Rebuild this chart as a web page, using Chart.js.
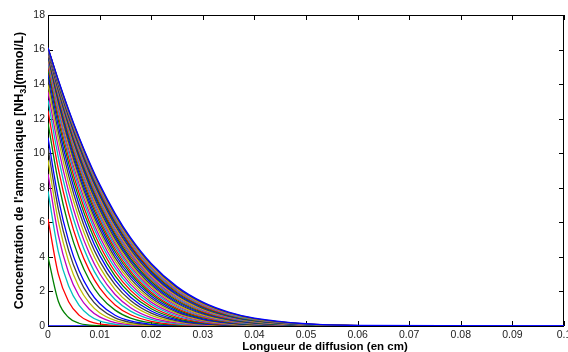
<!DOCTYPE html>
<html>
<head>
<meta charset="utf-8">
<script src="https://cdn.jsdelivr.net/npm/chart.js@4/dist/chart.umd.min.js"></script>
<style>
  html, body { margin: 0; padding: 0; background: #fff; }
  #wrap { width: 568px; height: 352px; }
</style>
</head>
<body>
<div id="wrap"><canvas id="chartProfiles" width="568" height="352"></canvas></div>
<script>
// diffusion length grid (cm) shared by every profile
const xGrid = [0, 0.002, 0.004, 0.006, 0.008, 0.010, 0.013, 0.016, 0.020, 0.025, 0.030, 0.035, 0.040, 0.050, 0.060, 0.100];
const xTicks = [0, 0.01, 0.02, 0.03, 0.04, 0.05, 0.06, 0.07, 0.08, 0.09, 0.1];
const yTicks = [0, 2, 4, 6, 8, 10, 12, 14, 16, 18];

const xTitle = 'Longueur de diffusion (en cm)';
// y label split so the "3" can sit as a subscript
const yTitleParts = ["Concentration de l'ammoniaque [NH", '3', '](mmol/L)'];

// [NH3] profiles (mmol/L), one per time step
const c00 = [0, 0, 0, 0, 0, 0, 0, 0, 0, 0, 0, 0, 0, 0, 0, 0];
const c01 = [4.0, 1.43, 0.49, 0.16, 0.05, 0.014, 0];
const c02 = [6.2, 3.0, 1.40, 0.63, 0.27, 0.12, 0.03, 0.007, 0];
const c03 = [7.8, 4.31, 2.31, 1.21, 0.61, 0.30, 0.10, 0.031, 0.006, 0];
const c04 = [8.8, 5.26, 3.07, 1.75, 0.97, 0.53, 0.20, 0.073, 0.017, 0];
const c05 = [9.6, 6.06, 3.74, 2.26, 1.34, 0.77, 0.33, 0.13, 0.036, 0.006, 0];
const c06 = [10.3, 6.77, 4.36, 2.76, 1.71, 1.04, 0.47, 0.21, 0.063, 0.013, 0];
const c07 = [10.9, 7.39, 4.91, 3.21, 2.06, 1.30, 0.62, 0.29, 0.097, 0.022, 0.005, 0];
const c08 = [11.76, 8.32, 5.78, 3.96, 2.66, 1.76, 0.92, 0.46, 0.175, 0.047, 0.012, 0.003, 0];
const c09 = [12.47, 9.09, 6.53, 4.62, 3.22, 2.21, 1.22, 0.65, 0.27, 0.082, 0.022, 0.006, 0];
const c10 = [13.07, 9.76, 7.19, 5.22, 3.74, 2.64, 1.53, 0.86, 0.38, 0.125, 0.038, 0.011, 0.003, 0];
const c11 = [13.57, 10.33, 7.76, 5.75, 4.21, 3.04, 1.82, 1.06, 0.49, 0.176, 0.058, 0.018, 0.005, 0];
const c12 = [13.98, 10.81, 8.26, 6.23, 4.65, 3.42, 2.11, 1.27, 0.62, 0.233, 0.082, 0.027, 0.008, 0];
const c13 = [14.33, 11.23, 8.70, 6.66, 5.04, 3.77, 2.39, 1.47, 0.74, 0.296, 0.109, 0.038, 0.012, 0];
const c14 = [14.62, 11.59, 9.08, 7.05, 5.40, 4.10, 2.65, 1.67, 0.87, 0.362, 0.14, 0.051, 0.017, 0.002];
const c15 = [14.87, 11.91, 9.43, 7.40, 5.74, 4.40, 2.90, 1.87, 1.00, 0.433, 0.175, 0.066, 0.023, 0.002];
const c16 = [15.07, 12.17, 9.74, 7.71, 6.04, 4.69, 3.14, 2.06, 1.13, 0.505, 0.212, 0.083, 0.031, 0.003];
const c17 = [15.24, 12.41, 10.01, 7.99, 6.32, 4.95, 3.36, 2.24, 1.26, 0.579, 0.251, 0.102, 0.039, 0.005];
const c18 = [15.38, 12.61, 10.24, 8.24, 6.57, 5.18, 3.57, 2.41, 1.38, 0.652, 0.29, 0.122, 0.048, 0.006, 0];
const c19 = [15.5, 12.79, 10.45, 8.47, 6.80, 5.41, 3.77, 2.57, 1.50, 0.726, 0.331, 0.143, 0.058, 0.008, 0];
const c20 = [15.6, 12.95, 10.65, 8.68, 7.02, 5.62, 3.96, 2.74, 1.62, 0.80, 0.375, 0.166, 0.069, 0.010, 0.001];
const c21 = [15.68, 13.08, 10.82, 8.87, 7.21, 5.81, 4.14, 2.89, 1.74, 0.876, 0.418, 0.189, 0.081, 0.013, 0.002];
const c22 = [15.75, 13.2, 10.98, 9.05, 7.40, 6.00, 4.31, 3.04, 1.85, 0.951, 0.464, 0.215, 0.094, 0.015, 0.002];
const c23 = [15.81, 13.31, 11.12, 9.21, 7.57, 6.17, 4.47, 3.18, 1.96, 1.02, 0.509, 0.24, 0.108, 0.018, 0.003];
const c24 = [15.86, 13.41, 11.25, 9.36, 7.73, 6.33, 4.62, 3.32, 2.07, 1.10, 0.555, 0.267, 0.122, 0.022, 0.003];
const c25 = [15.9, 13.5, 11.37, 9.50, 7.88, 6.48, 4.77, 3.45, 2.18, 1.17, 0.601, 0.293, 0.137, 0.025, 0.004];
const c26 = [15.93, 13.57, 11.47, 9.63, 8.02, 6.62, 4.90, 3.57, 2.28, 1.24, 0.647, 0.321, 0.152, 0.029, 0.005];
const c27 = [15.96, 13.64, 11.58, 9.75, 8.15, 6.76, 5.04, 3.70, 2.38, 1.32, 0.695, 0.35, 0.168, 0.034, 0.006];
const c28 = [15.98, 13.70, 11.67, 9.86, 8.27, 6.89, 5.17, 3.81, 2.48, 1.39, 0.741, 0.379, 0.185, 0.038, 0.007];
const c29 = [16.0, 13.76, 11.75, 9.97, 8.39, 7.01, 5.29, 3.92, 2.57, 1.46, 0.788, 0.408, 0.202, 0.043, 0.008];
const c30 = [16.02, 13.82, 11.84, 10.07, 8.51, 7.14, 5.41, 4.04, 2.67, 1.53, 0.836, 0.438, 0.22, 0.049, 0.009];
const c31 = [16.03, 13.86, 11.91, 10.16, 8.61, 7.24, 5.52, 4.14, 2.75, 1.59, 0.882, 0.468, 0.237, 0.054, 0.010];
const c32 = [16.04, 13.91, 11.98, 10.25, 8.71, 7.35, 5.63, 4.24, 2.84, 1.66, 0.927, 0.497, 0.256, 0.060, 0.012];
const c33 = [16.05, 13.95, 12.05, 10.33, 8.80, 7.45, 5.73, 4.34, 2.93, 1.73, 0.974, 0.528, 0.274, 0.066, 0.013];
const c34 = [16.06, 13.99, 12.11, 10.41, 8.89, 7.55, 5.83, 4.43, 3.01, 1.79, 1.02, 0.558, 0.293, 0.071, 0.015];
const c35 = [16.07, 14.03, 12.17, 10.49, 8.98, 7.64, 5.93, 4.53, 3.10, 1.85, 1.07, 0.59, 0.313, 0.078, 0.017];
const c36 = [16.07, 14.06, 12.22, 10.56, 9.07, 7.73, 6.02, 4.62, 3.18, 1.92, 1.11, 0.62, 0.332, 0.085, 0.018];
const c37 = [16.08, 14.10, 12.28, 10.63, 9.14, 7.82, 6.11, 4.70, 3.25, 1.98, 1.15, 0.65, 0.351, 0.091, 0.020];
const c38 = [16.08, 14.12, 12.33, 10.69, 9.22, 7.90, 6.19, 4.79, 3.33, 2.04, 1.20, 0.68, 0.371, 0.099, 0.022];
const c39 = [16.09, 14.16, 12.38, 10.76, 9.30, 7.99, 6.28, 4.88, 3.41, 2.10, 1.25, 0.71, 0.393, 0.106, 0.025];
const c40 = [16.09, 14.18, 12.43, 10.82, 9.37, 8.06, 6.36, 4.96, 3.48, 2.16, 1.29, 0.744, 0.413, 0.114, 0.027];
const c41 = [16.1, 14.21, 12.48, 10.89, 9.44, 8.14, 6.45, 5.04, 3.55, 2.22, 1.34, 0.774, 0.433, 0.121, 0.029];
const c42 = [16.1, 14.24, 12.52, 10.94, 9.51, 8.21, 6.52, 5.11, 3.62, 2.28, 1.38, 0.806, 0.454, 0.129, 0.032, 0];

const profiles = [c00, c01, c02, c03, c04, c05, c06, c07, c08, c09, c10, c11, c12, c13, c14,
  c15, c16, c17, c18, c19, c20, c21, c22, c23, c24, c25, c26, c27, c28, c29, c30, c31, c32,
  c33, c34, c35, c36, c37, c38, c39, c40, c41, c42];

// old matlab colour order: b g r c m y k
const LINE_COLORS = ['#0000FF', '#008000', '#FF0000', '#00BFBF', '#BF00BF', '#BFBF00', '#404040'];
const FONT = "'Liberation Sans', Arial, Helvetica, sans-serif";

// axes box with inward ticks on all four sides (drawn under the lines, like matlab)
const matlabAxes = {
  id: 'matlabAxes',
  beforeDatasetsDraw(chart) {
    const { ctx, chartArea: a, scales } = chart;
    ctx.save();
    ctx.strokeStyle = '#000';
    ctx.lineWidth = 1;
    ctx.strokeRect(a.left + 0.5, a.top + 0.5, a.right - a.left - 1, a.bottom - a.top);
    const len = 5;
    ctx.beginPath();
    scales.x.ticks.forEach(t => {
      const px = Math.round(scales.x.getPixelForValue(t.value)) + 0.5;
      ctx.moveTo(px, a.bottom); ctx.lineTo(px, a.bottom - len);
      ctx.moveTo(px, a.top); ctx.lineTo(px, a.top + len);
    });
    scales.y.ticks.forEach(t => {
      const py = Math.round(scales.y.getPixelForValue(t.value)) + 0.5;
      ctx.moveTo(a.left, py); ctx.lineTo(a.left + len, py);
      ctx.moveTo(a.right, py); ctx.lineTo(a.right - len, py);
    });
    ctx.stroke();
    ctx.restore();
  },
  // axis labels: x label sits a bit right of centre, y label needs a real subscript
  afterDraw(chart) {
    const { ctx, chartArea: a } = chart;
    ctx.save();
    ctx.fillStyle = '#000';
    ctx.textBaseline = 'alphabetic';
    ctx.font = `bold 11.5px ${FONT}`;
    ctx.textAlign = 'center';
    ctx.fillText(xTitle, 325, 350);

    const big = `bold 12.5px ${FONT}`;
    const small = `bold 9px ${FONT}`;
    ctx.font = big;
    const w0 = ctx.measureText(yTitleParts[0]).width;
    const w2 = ctx.measureText(yTitleParts[2]).width;
    ctx.font = small;
    const w1 = ctx.measureText(yTitleParts[1]).width;
    const total = w0 + w1 + w2;
    ctx.translate(23, (a.top + a.bottom) / 2);
    ctx.rotate(-Math.PI / 2);
    ctx.textAlign = 'left';
    let x = -total / 2;
    ctx.font = big;
    ctx.fillText(yTitleParts[0], x, 0);
    x += w0;
    ctx.font = small;
    ctx.fillText(yTitleParts[1], x, 3);
    x += w1;
    ctx.font = big;
    ctx.fillText(yTitleParts[2], x, 0);
    ctx.restore();
  }
};

const datasets = profiles.map((vals, i) => ({
  data: vals.map((v, k) => ({ x: xGrid[k], y: v })),
  borderColor: LINE_COLORS[i % LINE_COLORS.length],
  borderWidth: 1.3,
  pointRadius: 0,
  cubicInterpolationMode: 'monotone',
  fill: false,
  order: -i,
}));

new Chart(document.getElementById('chartProfiles'), {
  type: 'line',
  data: { datasets },
  options: {
    responsive: false,
    animation: false,
    layout: { padding: { top: 15, right: 4, left: 0, bottom: 0 } },
    plugins: { legend: { display: false }, tooltip: { enabled: false } },
    scales: {
      x: {
        type: 'linear',
        min: 0,
        max: 0.1,
        grid: { display: false, drawTicks: false },
        border: { display: false },
        afterBuildTicks: s => { s.ticks = xTicks.map(v => ({ value: v })); },
        afterFit: s => { s.height = 26; s.paddingLeft = 0; s.paddingRight = 0; },
        ticks: {
          autoSkip: false,
          maxRotation: 0,
          padding: 3,
          color: '#222',
          font: { family: FONT, size: 10.5 },
          callback: v => String(v),
        },
      },
      y: {
        min: 0,
        max: 18,
        grid: { display: false, drawTicks: false },
        border: { display: false },
        afterBuildTicks: s => { s.ticks = yTicks.map(v => ({ value: v })); },
        afterFit: s => { s.width = 48; s.paddingTop = 0; s.paddingBottom = 0; },
        ticks: {
          autoSkip: false,
          padding: 3,
          color: '#222',
          font: { family: FONT, size: 10.5 },
        },
      },
    },
  },
  plugins: [matlabAxes],
});
</script>
</body>
</html>
